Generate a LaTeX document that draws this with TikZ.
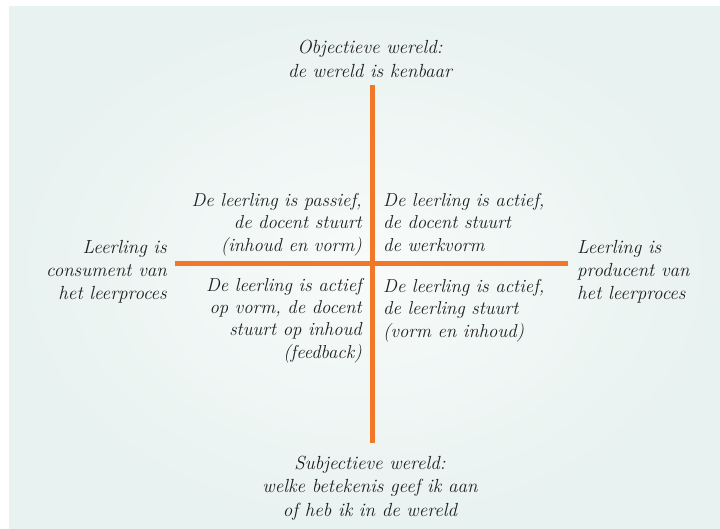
\documentclass[tikz,border=0pt]{standalone}
\usepackage{tikz}
\definecolor{axisorange}{HTML}{F07828}
\definecolor{panelmint}{HTML}{E8F2F0}
\definecolor{panelinner}{HTML}{F8FBFA}
\definecolor{txtgray}{HTML}{1F1F1F}
\begin{document}
\begin{tikzpicture}[x=1pt,y=-1pt,
  lbl/.style={text=txtgray, inner sep=0pt, font=\itshape\fontsize{19}{23}\selectfont},
  qlbl/.style={text=txtgray, inner sep=0pt, font=\itshape\fontsize{18.7}{22.2}\selectfont},
  axis/.style={draw=axisorange, line width=5pt}]
\useasboundingbox (0,0) rectangle (720,528);
\fill[white] (0,0) rectangle (720,528);
\shade[inner color=panelinner, outer color=panelmint] (9,6) rectangle (720,528);
% axes
\coordinate (top) at (372,85);
\coordinate (bot) at (372,443);
\coordinate (lft) at (175,263);
\coordinate (rgt) at (568,263);
\draw[axis] (top) -- (bot);
\draw[axis] (lft) -- (rgt);
% labels (base anchor = baseline of last line)
\node[lbl, font=\itshape\fontsize{19}{24}\selectfont, align=center, anchor=base] (obj) at (370,77) {Objectieve wereld:\\de wereld is kenbaar};
\node[lbl, font=\itshape\fontsize{19}{23.5}\selectfont, align=center, anchor=base] (subj) at (370,516) {Subjectieve wereld:\\welke betekenis geef ik aan\\of heb ik in de wereld};
\node[lbl, align=right, anchor=base east] (cons) at (167,299) {Leerling is\\consument van\\het leerproces};
\node[lbl, align=left, anchor=base west] (prod) at (577,299) {Leerling is\\producent van\\het leerproces};
\node[qlbl, align=right, anchor=base east] (q1) at (362,251) {De leerling is passief,\\de docent stuurt\\(inhoud en vorm)};
\node[qlbl, align=left, anchor=base west] (q2) at (383,251) {De leerling is actief,\\de docent stuurt\\de werkvorm};
\node[qlbl, align=right, anchor=base east] (q3) at (362,358) {De leerling is actief\\op vorm, de docent\\stuurt op inhoud\\(feedback)};
\node[qlbl, align=left, anchor=base west] (q4) at (383,337) {De leerling is actief,\\de leerling stuurt\\(vorm en inhoud)};
\end{tikzpicture}
\end{document}
